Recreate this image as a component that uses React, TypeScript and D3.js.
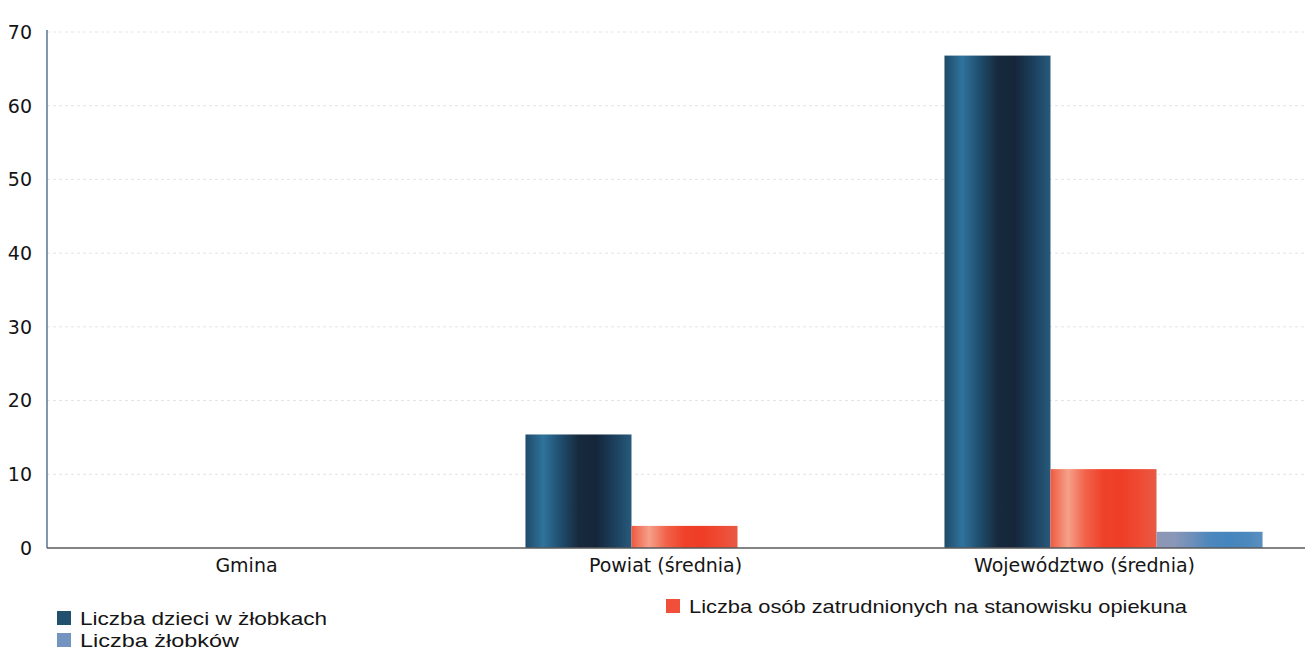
import React, { useEffect, useRef } from 'react';
import * as d3 from 'd3';

const categories = ['Gmina', 'Powiat (średnia)', 'Województwo (średnia)'];
const seriesNames = [
  'Liczba dzieci w żłobkach',
  'Liczba osób zatrudnionych na stanowisku opiekuna',
  'Liczba żłobków'
];
const dzieci = [0, 15.4, 66.8];
const opiekunowie = [0, 3.0, 10.7];
const zlobki = [0, 0, 2.2];
const yTicks = [0, 10, 20, 30, 40, 50, 60, 70];

const W = 1313;
const H = 655;

const App: React.FC = () => {
  const svgRef = useRef<SVGSVGElement>(null);

  useEffect(() => {
    if (!svgRef.current) return;
    const svg = d3.select(svgRef.current);
    svg.selectAll('*').remove();

    const axisX = 47;
    const rightX = 1306;
    const top = 32;
    const yBase = 548;

    // bands are a bit offset to the right of the axis, like in the original
    const x = d3.scaleBand<string>().domain(categories).range([56, 1313]).paddingInner(0).paddingOuter(0);
    const xInner = d3.scaleBand<number>().domain([0, 1, 2]).range([0, x.bandwidth()]).paddingInner(0).paddingOuter(0.476);
    const y = d3.scaleLinear().domain([0, 70]).range([yBase, top]);

    const series = [dzieci, opiekunowie, zlobki];

    // cylinder-ish gradients
    const defs = svg.append('defs');
    const grads = [
      { id: 'g0', stops: ['#1f4a68', '#2f739c', '#1f4d6d', '#172a3d', '#15263a', '#1c3f5d', '#275a7c'] },
      { id: 'g1', stops: ['#ee5a40', '#f5a08a', '#f26149', '#ef4129', '#ee3d26', '#ef4a33', '#e85a44'] },
      { id: 'g2', stops: ['#8d96b4', '#8a97b8', '#6e8fba', '#4d87bd', '#4585be', '#4a87bd', '#5a8fbf'] }
    ];
    grads.forEach(g => {
      const lg = defs.append('linearGradient').attr('id', g.id).attr('x1', '0%').attr('x2', '100%').attr('y1', '0%').attr('y2', '0%');
      g.stops.forEach((c, i) => {
        lg.append('stop').attr('offset', `${(i / (g.stops.length - 1)) * 100}%`).attr('stop-color', c);
      });
    });
    const legendColors = ['#23506f', '#f0503a', '#7394bf'];

    // faint grid
    svg.append('g')
      .selectAll('line')
      .data(yTicks.filter(t => t > 0))
      .enter()
      .append('line')
      .attr('x1', axisX)
      .attr('x2', rightX)
      .attr('y1', d => y(d))
      .attr('y2', d => y(d))
      .style('stroke', '#e4e4e4')
      .style('stroke-width', 1)
      .style('stroke-dasharray', '3,3');

    // bars
    categories.forEach((cat, ci) => {
      series.forEach((vals, si) => {
        const v = vals[ci];
        if (v <= 0) return;
        svg.append('rect')
          .attr('x', (x(cat) || 0) + (xInner(si) || 0))
          .attr('y', y(v))
          .attr('width', xInner.bandwidth())
          .attr('height', yBase - y(v))
          .style('fill', `url(#g${si})`);
      });
    });

    // axis lines
    svg.append('line')
      .attr('x1', axisX).attr('x2', axisX).attr('y1', top - 2).attr('y2', yBase)
      .style('stroke', '#3d5f88').style('stroke-width', 1.3);
    svg.append('line')
      .attr('x1', axisX).attr('x2', rightX).attr('y1', yBase).attr('y2', yBase)
      .style('stroke', '#5a5a5a').style('stroke-width', 1.3);
    svg.append('line')
      .attr('x1', rightX).attr('x2', rightX).attr('y1', top - 20).attr('y2', yBase)
      .style('stroke', '#c9a3b6').style('stroke-width', 1);

    // y tick labels
    svg.append('g')
      .selectAll('text')
      .data(yTicks)
      .enter()
      .append('text')
      .attr('x', 32)
      .attr('y', d => y(d))
      .attr('dy', '0.36em')
      .attr('text-anchor', 'end')
      .style('font-family', 'DejaVu Sans, Verdana, sans-serif')
      .style('font-size', '19px')
      .style('fill', '#151515')
      .text(d => String(d));

    // category labels
    svg.append('g')
      .selectAll('text')
      .data(categories)
      .enter()
      .append('text')
      .attr('x', d => (x(d) || 0) + x.bandwidth() / 2 - 19)
      .attr('y', yBase + 24)
      .attr('text-anchor', 'middle')
      .style('font-family', 'DejaVu Sans, Verdana, sans-serif')
      .style('font-size', '19px')
      .style('fill', '#151515')
      .text(d => d);

    // legend
    const legendItems = [
      { name: seriesNames[0], color: legendColors[0], lx: 57, ly: 611, len: 247 },
      { name: seriesNames[2], color: legendColors[2], lx: 57, ly: 633, len: 159 },
      { name: seriesNames[1], color: legendColors[1], lx: 666, ly: 599, len: 498 }
    ];
    const lg = svg.append('g');
    legendItems.forEach(it => {
      lg.append('rect')
        .attr('x', it.lx).attr('y', it.ly).attr('width', 14).attr('height', 14)
        .style('fill', it.color);
      lg.append('text')
        .attr('x', it.lx + 23)
        .attr('y', it.ly + 14)
        .attr('textLength', it.len)
        .attr('lengthAdjust', 'spacingAndGlyphs')
        .style('font-family', 'Liberation Sans, Arial, sans-serif')
        .style('font-size', '19px')
        .style('fill', '#151515')
        .text(it.name);
    });
  }, []);

  return (
    <div style={{ margin: -8 }}>
      <svg ref={svgRef} width={W} height={H} style={{ display: 'block', background: '#fff' }}></svg>
    </div>
  );
};

export default App;
